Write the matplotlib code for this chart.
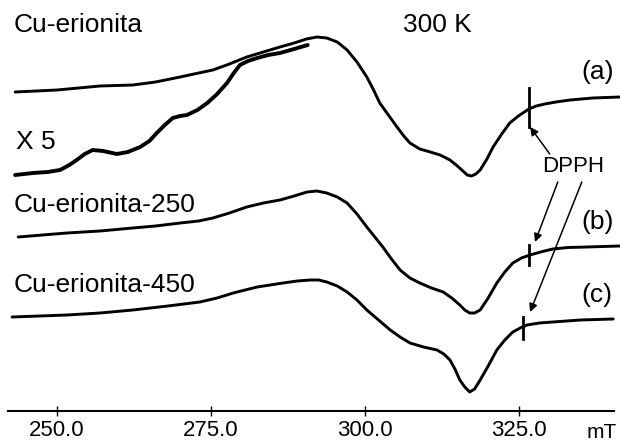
import numpy as np
import matplotlib
matplotlib.use("Agg")
import matplotlib.pyplot as plt

plt.rcParams['font.family'] = ['Liberation Sans', 'DejaVu Sans']

# field (mT) and intensity (a.u., offset per trace)
field_a = [243.2, 250.0, 257.0, 262.3, 266.0, 270.0, 273.0, 275.3, 278.0, 280.8, 283.5, 286.2,
           288.5, 290.5, 292.2, 293.8, 295.5, 297.1, 298.7, 300.3, 301.4, 302.4, 303.8, 305.2,
           306.3, 307.3, 308.9, 310.6, 312.2, 313.8, 315.0, 315.9, 316.6, 317.3, 318.0, 318.7,
           319.8, 320.8, 322.2, 323.5, 324.9, 326.6, 327.8, 329.2, 331.0, 333.3, 337.0, 341.4]
int_a = [319, 321, 325, 326, 329, 334, 338, 341, 347, 354, 359, 364,
         368, 372, 374, 373, 369, 361, 349, 334, 321, 308, 296, 284,
         275, 268, 262, 259, 256, 251, 245, 240, 236, 235, 237, 241,
         252, 264, 277, 288, 295, 302, 305, 307, 309, 311, 313, 314]

field_x5 = [243.2, 246.1, 248.5, 250.5, 252.0, 253.2, 254.5, 255.8, 257.5, 259.7, 261.5, 263.5,
            265.0, 266.2, 267.5, 268.8, 270.0, 271.1, 272.8, 274.4, 276.0, 277.6, 278.7, 279.7,
            281.0, 282.5, 284.3, 286.2, 288.5, 290.7]
int_x5 = [236, 238, 239, 241, 246, 251, 257, 261, 260, 257, 259, 264,
          270, 278, 286, 293, 295, 296, 301, 308, 317, 328, 338, 346,
          350, 353, 356, 358, 362, 366]

field_b = [243.7, 251.6, 257.0, 262.3, 266.0, 270.0, 273.0, 275.3, 278.0, 280.8, 283.5, 286.2,
           288.5, 290.6, 292.2, 293.8, 295.5, 297.1, 298.7, 300.3, 301.6, 302.9, 304.3, 305.7,
           307.3, 308.9, 310.8, 312.7, 314.1, 315.4, 316.2, 317.0, 317.8, 318.7, 320.0, 321.4,
           322.7, 324.0, 325.4, 326.8, 328.5, 330.5, 333.0, 336.0, 341.4]
int_b = [174, 178, 180, 183, 185, 188, 190, 193, 198, 204, 208, 211,
         215, 219, 220, 218, 214, 208, 197, 184, 174, 164, 152, 141,
         133, 128, 123, 119, 113, 106, 101, 98, 98, 101, 113, 128,
         139, 148, 153, 156, 159, 162, 163.5, 164, 165]

field_c = [242.7, 251.6, 257.0, 262.3, 268.0, 273.2, 276.0, 278.6, 282.5, 286.7, 289.0, 291.1,
           292.5, 293.8, 295.5, 297.1, 298.7, 300.3, 302.2, 304.1, 305.7, 307.3, 309.5, 311.7,
           312.8, 313.8, 314.6, 315.4, 316.2, 317.0, 317.8, 318.7, 320.0, 321.4, 322.7, 324.0,
           325.2, 326.3, 328.3, 330.5, 335.0, 340.3]
int_c = [94, 96, 98, 101, 105, 109, 113, 118, 124, 128, 130, 131,
         131, 129, 125, 119, 111, 101, 91, 81, 74, 68, 64, 61,
         57, 51, 42, 31, 24, 19, 22, 31, 45, 61, 71, 79,
         83, 86, 88, 89, 91, 92]

# DPPH marker field and vertical extent for each trace
dpph_x = [326.6, 326.6, 325.6]
dpph_lo = [284, 146, 72]
dpph_hi = [323, 166, 94]

ticks = [250.0, 275.0, 300.0, 325.0]

fig = plt.figure(figsize=(6.2, 4.42), dpi=100)
ax = fig.add_axes([0, 31 / 442, 1, 411 / 442])

for fx, iy, lw in [(field_a, int_a, 2.1), (field_x5, int_x5, 2.8),
                   (field_b, int_b, 2.1), (field_c, int_c, 2.1)]:
    ax.plot(fx, iy, color='black', lw=lw, solid_capstyle='round', solid_joinstyle='round')

for x, lo, hi in zip(dpph_x, dpph_lo, dpph_hi):
    ax.plot([x, x], [lo, hi], color='black', lw=2.0)

ax.set_xlim(240.75, 341.4)
ax.set_ylim(0, 411)
for s in ['left', 'right', 'top']:
    ax.spines[s].set_visible(False)
ax.spines['bottom'].set_bounds(242.05, 340.4)
ax.spines['bottom'].set_linewidth(1.5)
ax.set_yticks([])
ax.set_xticks(ticks)
ax.set_xticklabels(["%.1f" % t for t in ticks])
ax.tick_params(axis='x', direction='inout', length=7, width=1.0, labelsize=16, pad=3)
ax.patch.set_visible(False)

fs = 19
ax.text(242.9, 386, "Cu-erionita", fontsize=fs, ha='left', va='center')
ax.text(311.7, 386, "300 K", fontsize=fs, ha='center', va='center')
ax.text(243.3, 269, "X 5", fontsize=fs, ha='left', va='center')
ax.text(242.9, 206, "Cu-erionita-250", fontsize=fs, ha='left', va='center')
ax.text(242.9, 126, "Cu-erionita-450", fontsize=fs, ha='left', va='center')
ax.text(335.2, 339, "(a)", fontsize=fs, ha='left', va='center')
ax.text(335.2, 189, "(b)", fontsize=fs, ha='left', va='center')
ax.text(335.2, 116, "(c)", fontsize=fs, ha='left', va='center')
ax.text(333.8, 244, "DPPH", fontsize=16, ha='center', va='center')
ax.text(336.0, -22, "mT", fontsize=15, ha='left', va='center', clip_on=False)

arr = dict(arrowstyle='-|>', color='black', lw=1.1, mutation_scale=12, shrinkA=0, shrinkB=0)
ax.annotate("", xy=(326.8, 284), xytext=(330.0, 257), arrowprops=arr)
ax.annotate("", xy=(327.6, 169), xytext=(331.3, 229), arrowprops=arr)
ax.annotate("", xy=(326.8, 99), xytext=(335.2, 229), arrowprops=arr)

fig.savefig("out.png", dpi=100, facecolor='white')
